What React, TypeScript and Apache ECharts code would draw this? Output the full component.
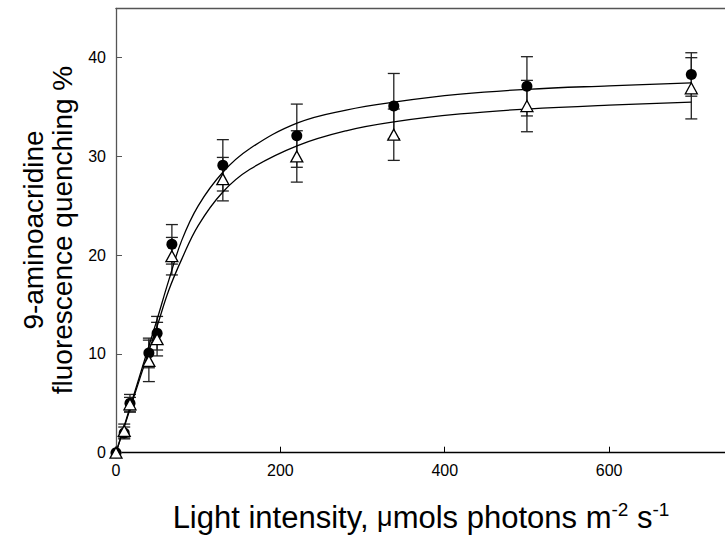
import React, { useEffect, useRef } from "react";
import * as echarts from "echarts";

// Measured light intensities (µmol photons m-2 s-1)
const xs = [0, 10, 17, 40, 50, 68, 130, 220, 338, 500, 700];
// Filled circles
const circleY = [0, 2.0, 5.0, 10.1, 12.1, 21.1, 29.1, 32.1, 35.1, 37.1, 38.3];
const circleErr = [0, 0.6, 0.9, 1.5, 1.7, 2.0, 2.6, 3.2, 3.3, 3.0, 2.2];
// Open triangles
const triY = [0, 2.2, 4.9, 9.3, 11.5, 19.9, 27.7, 30.0, 32.2, 35.1, 36.9];
const triErr = [0, 0.7, 0.7, 2.1, 1.7, 1.9, 2.2, 2.6, 2.6, 2.6, 3.1];

// Fitted curves
const fitX = [0, 10, 20, 40, 50, 64, 80, 100, 130, 163, 221, 280, 338, 419, 500, 600, 700];
const fitCircle = [0, 2.7, 5.4, 10.8, 13.5, 17.4, 21.5, 25.0, 28.4, 30.8, 33.4, 34.7, 35.5, 36.3, 36.8, 37.15, 37.45];
const fitTri = [0, 2.6, 5.2, 10.3, 12.8, 16.4, 19.6, 23.0, 26.4, 28.7, 31.1, 32.6, 33.5, 34.3, 34.8, 35.2, 35.5];

const xTicks = [0, 200, 400, 600];
const yTicks = [0, 10, 20, 30, 40];

const FONT = "'Liberation Sans', Arial, sans-serif";

function errRender(params: any, api: any) {
  const x = api.value(0);
  const y = api.value(1);
  const e = api.value(2);
  const top = api.coord([x, y + e]);
  const bot = api.coord([x, y - e]);
  const hw = 6;
  const st = { stroke: "#222", lineWidth: 1.3 };
  return {
    type: "group",
    children: [
      { type: "line", shape: { x1: top[0], y1: top[1], x2: bot[0], y2: bot[1] }, style: st },
      { type: "line", shape: { x1: top[0] - hw, y1: top[1], x2: top[0] + hw, y2: top[1] }, style: st },
      { type: "line", shape: { x1: bot[0] - hw, y1: bot[1], x2: bot[0] + hw, y2: bot[1] }, style: st },
    ],
  };
}

export default function App() {
  const ref = useRef<HTMLDivElement>(null);
  useEffect(() => {
    if (!ref.current) return;
    const chart = echarts.init(ref.current, undefined, { renderer: "svg" });
    const errData = (ys: number[], es: number[]) =>
      xs.map((x, i) => [x, ys[i], es[i]]).filter((d) => d[2] > 0);
    chart.setOption({
      animation: false,
      backgroundColor: "#fff",
      grid: { left: 116, right: 0, top: 8.3, bottom: 92.3 },
      xAxis: [
        {
          type: "value",
          min: 0,
          max: 741,
          position: "bottom",
          axisLine: { lineStyle: { color: "#000", width: 1.3 } },
          axisTick: { inside: true, length: 6, customValues: xTicks, lineStyle: { color: "#000" } },
          axisLabel: { customValues: xTicks, fontSize: 16, color: "#000", fontFamily: FONT, margin: 10 },
          splitLine: { show: false },
        },
        {
          type: "value",
          min: 0,
          max: 741,
          position: "top",
          axisLine: { lineStyle: { color: "#555", width: 1.3 } },
          axisTick: { show: false },
          axisLabel: { show: false },
          splitLine: { show: false },
        },
      ],
      yAxis: {
        type: "value",
        min: 0,
        max: 45,
        axisLine: { show: true, lineStyle: { color: "#555", width: 1.3 } },
        axisTick: { show: true, inside: true, length: 6, customValues: yTicks, lineStyle: { color: "#555" } },
        axisLabel: { customValues: yTicks, fontSize: 16, color: "#000", fontFamily: FONT, margin: 10 },
        splitLine: { show: false },
      },
      graphic: [
        {
          type: "text",
          x: 421,
          y: 517,
          style: {
            text: "Light intensity, {mu|μ}mols photons m{sup|-2} s{sup|-1}",
            font: `31px ${FONT}`,
            fill: "#000",
            align: "center",
            verticalAlign: "middle",
            rich: {
              mu: { fontSize: 27, fontFamily: FONT, lineHeight: 35 },
              sup: { fontSize: 19, fontFamily: FONT, verticalAlign: "top", lineHeight: 19 },
            },
            lineHeight: 35,
          },
        },
        {
          type: "text",
          x: 48,
          y: 230,
          rotation: Math.PI / 2,
          style: {
            text: "9-aminoacridine\nfluorescence quenching %",
            font: `28px ${FONT}`,
            fill: "#000",
            align: "center",
            verticalAlign: "middle",
            lineHeight: 29,
          },
        },
      ],
      series: [
        {
          type: "custom",
          renderItem: errRender,
          data: errData(circleY, circleErr),
          z: 2,
        },
        {
          type: "custom",
          renderItem: errRender,
          data: errData(triY, triErr),
          z: 2,
        },
        {
          type: "line",
          data: fitX.map((x, i) => [x, fitCircle[i]]),
          smooth: 0.4,
          showSymbol: false,
          lineStyle: { color: "#000", width: 1.3 },
          z: 3,
        },
        {
          type: "line",
          data: fitX.map((x, i) => [x, fitTri[i]]),
          smooth: 0.4,
          showSymbol: false,
          lineStyle: { color: "#000", width: 1.3 },
          z: 3,
        },
        {
          type: "scatter",
          data: xs.map((x, i) => [x, circleY[i]]),
          symbol: "circle",
          symbolSize: 11,
          itemStyle: { color: "#000", opacity: 1 },
          z: 4,
        },
        {
          type: "scatter",
          data: xs.map((x, i) => [x, triY[i]]),
          symbol: "triangle",
          symbolSize: [12, 11],
          itemStyle: { color: "#fff", borderColor: "#000", borderWidth: 1.3, opacity: 1 },
          z: 5,
        },
      ],
    });
    return () => chart.dispose();
  }, []);
  return <div ref={ref} style={{ width: 725, height: 545, position: "absolute", left: 0, top: 0 }} />;
}
